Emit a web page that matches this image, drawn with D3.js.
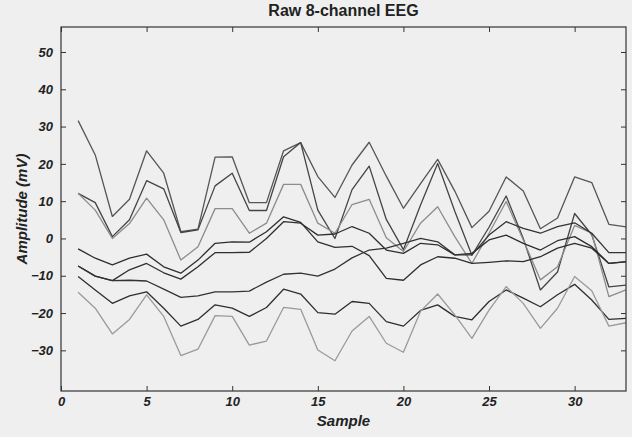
<!DOCTYPE html>
<html>
<head>
<meta charset="utf-8">
<title>Raw 8-channel EEG</title>
<script src="https://d3js.org/d3.v7.min.js"></script>
<style>
  body { margin: 0; background: #efefef; }
  svg { display: block; font-family: "Liberation Sans", Arial, sans-serif; }
  .tick text { font-size: 13px; font-weight: bold; font-style: italic; fill: #222; }
  .tick line { stroke: #333; }
</style>
</head>
<body>
<svg></svg>
<script>
// sample index 1..33
const samples = d3.range(1, 34);
const xTicks = [0, 5, 10, 15, 20, 25, 30];
const yTicks = [-30, -20, -10, 0, 10, 20, 30, 40, 50];

// one array per channel (mV)
const ch1 = [31.6, 22.4, 5.9, 10.5, 23.5, 17.5, 1.8, 2.5, 21.8, 21.9, 9.6, 9.6, 23.5, 25.7, 16.6, 11.0, 19.7, 25.8, 16.7, 8.1, 14.7, 21.2, 12.7, 2.9, 7.3, 16.5, 12.7, 2.6, 5.5, 16.5, 15.0, 3.8, 3.1];
const ch2 = [12.1, 9.6, 0.5, 5.0, 15.5, 13.3, 1.6, 2.3, 14.1, 17.5, 7.5, 7.5, 21.9, 25.7, 7.6, 0.0, 13.1, 19.4, 5.1, -3.0, 9.0, 20.1, 7.3, -4.5, 3.0, 11.4, 0.0, -13.8, -9.0, 6.7, 1.0, -13.0, -12.5];
const ch3 = [12.1, 7.6, 0.0, 4.0, 10.8, 5.0, -5.8, -2.2, 8.0, 8.0, 1.4, 4.1, 14.5, 14.5, 4.1, 1.4, 9.1, 10.5, 0.2, -3.5, 4.1, 8.5, 0.5, -6.7, 1.4, 9.9, -0.4, -11.1, -7.6, 3.5, 1.4, -15.6, -13.8];
const ch4 = [-2.8, -5.3, -7.1, -5.3, -4.2, -7.6, -9.3, -5.8, -1.3, -0.9, -1.0, 1.8, 5.8, 4.3, -0.9, -2.4, -2.1, -4.6, -10.7, -11.2, -7.1, -4.9, -5.3, -6.7, -6.4, -6.0, -6.2, -4.9, -2.6, -1.3, -2.6, -6.7, -6.3];
const ch5 = [-7.4, -10.1, -11.3, -8.4, -6.7, -9.2, -10.9, -7.6, -3.8, -3.8, -3.7, 0.0, 4.5, 4.1, 0.9, 1.2, 3.2, 1.4, -3.1, -4.0, -1.3, -1.7, -4.4, -4.0, -0.4, 0.9, -1.3, -3.1, -0.6, 0.5, -2.2, -6.7, -6.2];
const ch6 = [-7.4, -10.1, -11.3, -11.2, -11.4, -13.6, -15.8, -15.4, -14.3, -14.3, -14.1, -11.7, -9.6, -9.3, -10.1, -8.2, -5.2, -3.1, -2.6, -1.3, 0.0, -0.9, -4.4, -4.4, 0.9, 4.5, 2.7, 1.4, 3.2, 4.2, 1.4, -3.8, -3.8];
const ch7 = [-10.2, -13.8, -17.4, -15.4, -14.3, -18.7, -23.5, -21.7, -17.8, -18.7, -20.9, -18.5, -13.6, -14.9, -19.9, -20.3, -16.9, -17.4, -22.3, -23.5, -19.3, -17.8, -20.9, -21.8, -16.9, -13.8, -16.0, -18.3, -15.1, -12.3, -16.5, -21.7, -21.4];
const ch8 = [-14.4, -18.7, -25.6, -21.7, -15.1, -20.9, -31.4, -29.7, -20.7, -20.9, -28.6, -27.5, -18.5, -19.0, -29.9, -32.8, -24.8, -20.9, -28.1, -30.5, -19.5, -14.9, -20.5, -26.8, -19.2, -12.9, -17.4, -24.1, -18.7, -10.2, -14.0, -23.5, -22.6];

const channels = [ch1, ch2, ch3, ch4, ch5, ch6, ch7, ch8];
const shades = ['#555', '#444', '#8c8c8c', '#2e2e2e', '#2e2e2e', '#333', '#2e2e2e', '#9a9a9a'];

const width = 632, height = 437;
const margin = {top: 27, right: 6, bottom: 46, left: 61};
const w = width - margin.left - margin.right;
const h = height - margin.top - margin.bottom;

const svg = d3.select('svg').attr('width', width).attr('height', height);
const g = svg.append('g').attr('transform', `translate(${margin.left},${margin.top})`);

const x = d3.scaleLinear().domain([0, 33]).range([0, w]);
const y = d3.scaleLinear().domain([-40.9, 56.7]).range([h, 0]);

const line = d3.line()
  .x((d, i) => x(samples[i]))
  .y(d => y(d));

g.selectAll('path.ch')
  .data(channels)
  .enter().append('path')
  .attr('class', 'ch')
  .attr('d', line)
  .attr('fill', 'none')
  .attr('stroke', (d, i) => shades[i])
  .attr('stroke-width', 1.3)
  .attr('stroke-linejoin', 'round');

// axes, ticks pointing inwards on all four sides
g.append('g')
  .attr('transform', `translate(0,${h})`)
  .call(d3.axisBottom(x).tickValues(xTicks).tickSizeInner(-5).tickSizeOuter(0).tickPadding(6));
g.append('g')
  .call(d3.axisTop(x).tickValues(xTicks).tickSizeInner(-5).tickSizeOuter(0).tickFormat(''));
g.append('g')
  .call(d3.axisLeft(y).tickValues(yTicks).tickSizeInner(-5).tickSizeOuter(0).tickPadding(8));
g.append('g')
  .attr('transform', `translate(${w},0)`)
  .call(d3.axisRight(y).tickValues(yTicks).tickSizeInner(-5).tickSizeOuter(0).tickFormat(''));
g.selectAll('.domain').remove();

g.append('rect')
  .attr('width', w).attr('height', h)
  .attr('fill', 'none').attr('stroke', '#333').attr('stroke-width', 1.2);

svg.append('text')
  .attr('x', margin.left + w / 2).attr('y', 16)
  .attr('text-anchor', 'middle')
  .style('font-size', '16px').style('font-weight', 'bold').style('fill', '#222')
  .text('Raw 8-channel EEG');

svg.append('text')
  .attr('x', margin.left + w / 2).attr('y', 426)
  .attr('text-anchor', 'middle')
  .style('font-size', '15px').style('font-weight', 'bold').style('font-style', 'italic').style('fill', '#222')
  .text('Sample');

svg.append('text')
  .attr('transform', `translate(27,${margin.top + h / 2}) rotate(-90)`)
  .attr('text-anchor', 'middle')
  .style('font-size', '15px').style('font-weight', 'bold').style('font-style', 'italic').style('fill', '#222')
  .text('Amplitude (mV)');
</script>
</body>
</html>
